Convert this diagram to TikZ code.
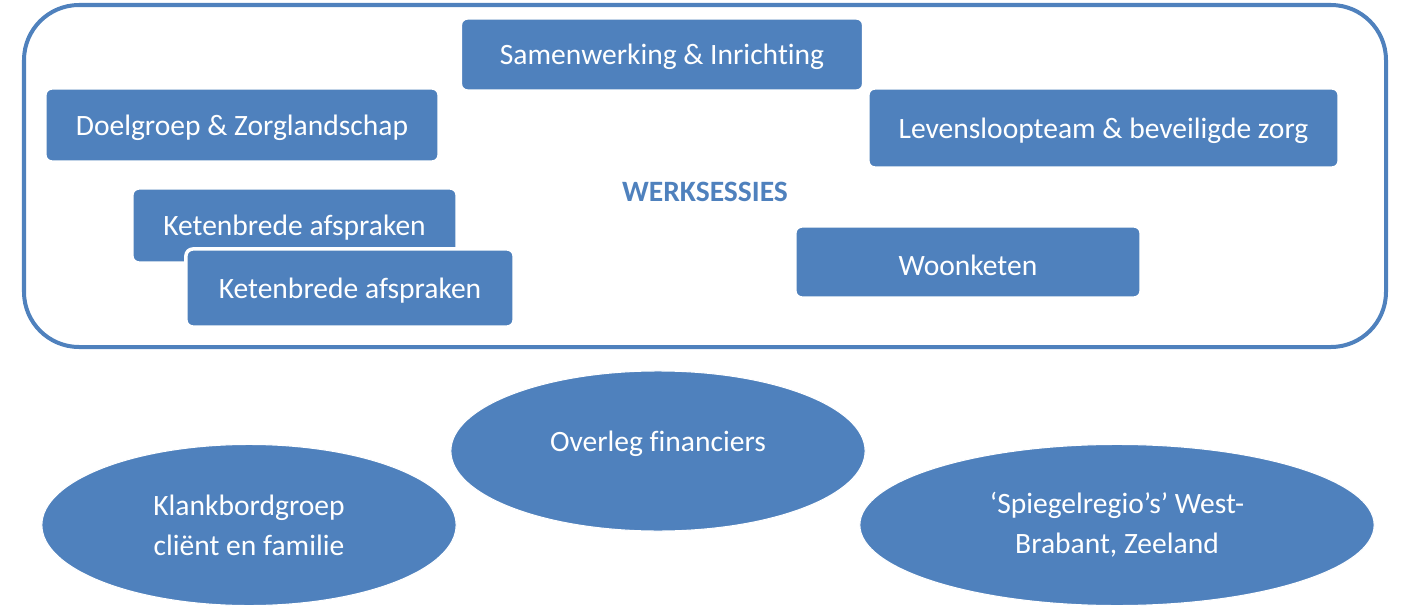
\documentclass[tikz,border=0pt]{standalone}
\usepackage{fontspec}
\setmainfont{Carlito}[Ligatures=NoCommon]
\usepackage{tikz}
\usetikzlibrary{
        positioning,
        shapes.geometric
    }
\definecolor{sessieblauw}{HTML}{4F81BD}
\tikzset{>=stealth,auto,node distance=2cm}
\tikzset{sessie/.style={rectangle,rounded corners=0.07cm,fill=sessieblauw,draw=white,line width=0.035cm,text=white,inner sep=0pt,text height=0.24cm,text depth=0.04cm,font=\fontsize{8.4}{11.4}\selectfont}}
\tikzset{overleg/.style={ellipse,fill=sessieblauw,draw=white,line width=0.3pt,text=white,inner sep=0pt,align=center,font=\fontsize{8.4}{11.4}\selectfont}}

\begin{document}
\begin{tikzpicture}[x=0.01cm,y=-0.01cm]
                    \useasboundingbox (0,0) rectangle (1411,606);
                    % kader rond de werksessies
                    \draw[sessieblauw,line width=0.04cm,rounded corners=0.55cm] (24,5) rectangle (1386,347);
                    \node[font=\fontsize{8.4}{10}\selectfont\bfseries,text=sessieblauw] (werk) at (705,192) {WERKSESSIES};

                        \node[sessie,minimum width=4.03cm,minimum height=0.73cm] (samen) at (662,54.5) {Samenwerking \& Inrichting};
                        \node[sessie,minimum width=3.94cm,minimum height=0.74cm] (doel) at (242,125) {Doelgroep \& Zorglandschap};
                        \node[sessie,minimum width=4.71cm,minimum height=0.80cm] (levens) at (1103.5,128) {Levensloopteam \& beveiligde zorg};
                        \node[sessie,minimum width=3.25cm,minimum height=0.75cm] (keten1) at (294.5,225.5) {Ketenbrede afspraken};
                        \node[sessie,minimum width=3.28cm,minimum height=0.78cm] (keten2) at (350,288) {Ketenbrede afspraken};
                        \node[sessie,minimum width=3.46cm,minimum height=0.72cm,text height=0.26cm,text depth=0cm] (woon) at (968,262) {Woonketen};

                    % overleggen buiten de werksessies
                        \node[overleg,minimum width=4.14cm,minimum height=1.60cm,text height=0.3cm,text depth=0.3cm] (financiers) at (658,451) {Overleg financiers};
                        \node[overleg,minimum width=4.14cm,minimum height=1.61cm] (klankbord) at (249,525) {Klankbordgroep\\cliënt en familie};
                        \node[overleg,minimum width=5.14cm,minimum height=1.61cm] (spiegel) at (1117,525) {‘Spiegelregio’s’ West-\\Brabant, Zeeland};
                    \end{tikzpicture}
\end{document}
